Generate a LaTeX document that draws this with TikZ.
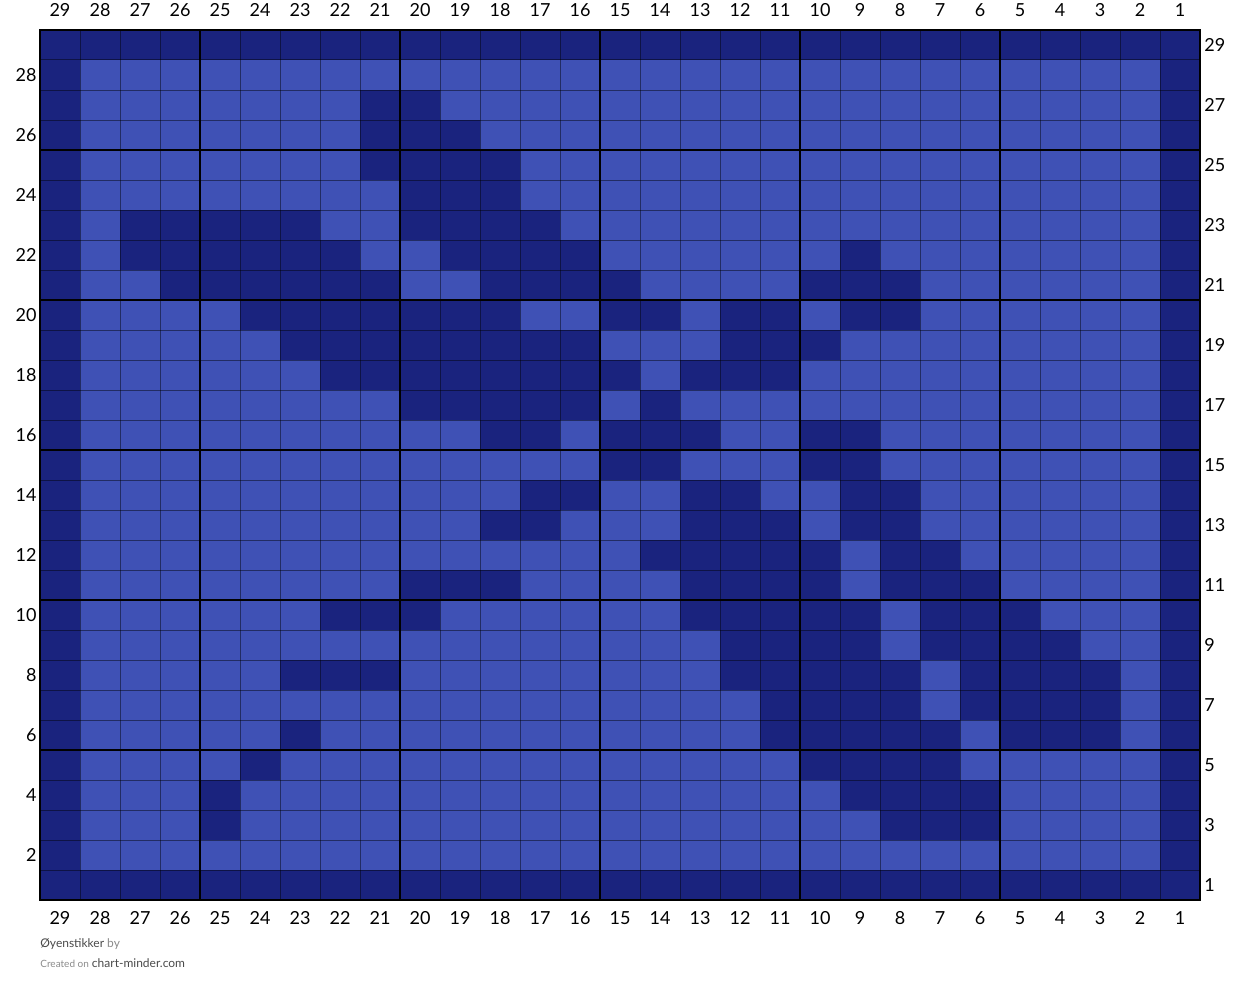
\documentclass[tikz,border=0pt]{standalone}
\usepackage{fontspec}
\setmainfont{Lato}
\definecolor{chartlight}{HTML}{3F51B5}
\definecolor{chartdark}{HTML}{1A237E}
\definecolor{creditgray}{HTML}{4A4A4A}
\definecolor{creditlight}{HTML}{8A8A8A}

\begin{document}
\begin{tikzpicture}[
    x=20pt, y=15pt,
    lightcell/.style={fill=chartlight},
    darkcell/.style={fill=chartdark},
    gridline/.style={draw=black, line width=0.5pt, opacity=0.45},
    blockline/.style={draw=black, line width=1pt},
    frameline/.style={draw=black, line width=1.3pt},
    numlabel/.style={inner sep=0pt, font=\fontsize{9}{11}\selectfont},
    credittext/.style={inner sep=0pt, anchor=west, font=\fontsize{6}{7}\selectfont}
]
\useasboundingbox (-1,-3.1) rectangle (30,30);

% Background stitches
\fill[lightcell] (0,0) rectangle (29,29);

% Border stitches
\fill[darkcell] (0,28) rectangle (29,29);
\fill[darkcell] (0,0) rectangle (29,1);
\fill[darkcell] (0,0) rectangle (1,29);
\fill[darkcell] (28,0) rectangle (29,29);

% Pattern stitches (row / chart columns)
\foreach \r/\cols in {
    27/{21,20},
    26/{21,20,19},
    25/{21,20,19,18},
    24/{20,19,18},
    23/{27,26,25,24,23,20,19,18,17},
    22/{27,26,25,24,23,22,19,18,17,16,9},
    21/{26,25,24,23,22,21,18,17,16,15,10,9,8},
    20/{24,23,22,21,20,19,18,15,14,12,11,9,8},
    19/{23,22,21,20,19,18,17,16,12,11,10},
    18/{22,21,20,19,18,17,16,15,13,12,11},
    17/{20,19,18,17,16,14},
    16/{18,17,15,14,13,10,9},
    15/{15,14,10,9},
    14/{17,16,13,12,9,8},
    13/{18,17,13,12,11,9,8},
    12/{14,13,12,11,10,8,7},
    11/{20,19,18,13,12,11,10,8,7,6},
    10/{22,21,20,13,12,11,10,9,7,6,5},
    9/{12,11,10,9,7,6,5,4},
    8/{23,22,21,12,11,10,9,8,6,5,4,3},
    7/{11,10,9,8,6,5,4,3},
    6/{23,11,10,9,8,7,5,4,3},
    5/{24,10,9,8,7},
    4/{25,9,8,7,6},
    3/{25,8,7,6}}{
    \foreach \c in \cols
        \fill[darkcell] (29-\c,\r-1) rectangle ++(1,1);
}

% Grid
\foreach \i in {1,...,28} {
    \draw[gridline] (\i,0) -- (\i,29);
    \draw[gridline] (0,\i) -- (29,\i);
}
\foreach \i in {4,9,14,19,24}
    \draw[blockline] (\i,0) -- (\i,29);
\foreach \i in {5,10,15,20,25}
    \draw[blockline] (0,\i) -- (29,\i);
\draw[frameline] (0,0) rectangle (29,29);

% Column numbers
\foreach \c in {1,...,29} {
    \node[numlabel] (top\c) at (29.5-\c,29.667) {\c};
    \node[numlabel] (bot\c) at (29.5-\c,-0.6) {\c};
}

% Row numbers
\foreach \r in {2,4,...,28}
    \node[numlabel, anchor=east] (left\r) at (-0.075,\r-0.5) {\r};
\foreach \r in {1,3,...,29}
    \node[numlabel, anchor=west] (right\r) at (29.1,\r-0.5) {\r};

% Credits
\node[credittext] (credit) at (0,-1.467) {\textcolor{creditgray}{Øyenstikker} \textcolor{creditlight}{by}};
\node[credittext] (site) at (0,-2.1) {\textcolor{creditlight}{\fontsize{5}{6}\selectfont Created on} \textcolor{creditgray}{chart-minder.com}};

\end{tikzpicture}
\end{document}
